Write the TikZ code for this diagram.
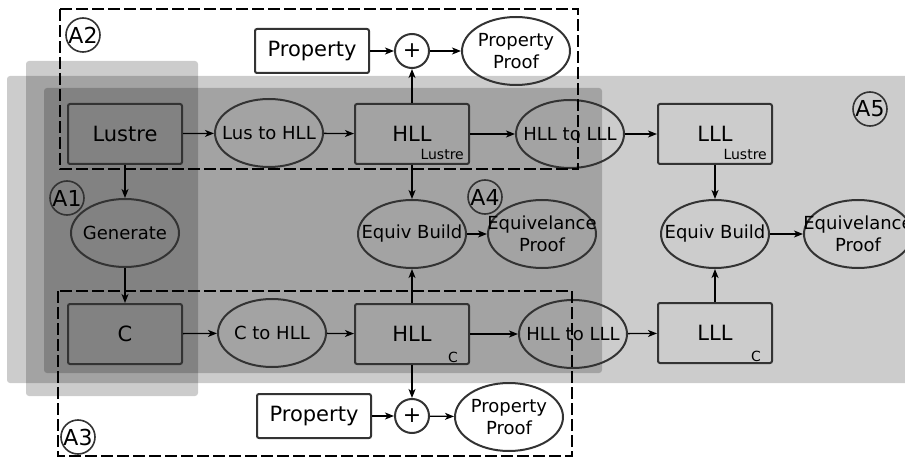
\documentclass[tikz,border=0pt]{standalone}
\usepackage{fontspec}
\setmainfont{DejaVu Sans}
\usetikzlibrary{arrows.meta,
	shapes.geometric,
	positioning}
\newcommand{\zwbox}[1]{\makebox[0pt]{#1}}
\tikzstyle{bx}=[draw=black!80, line width=2pt, rounded corners=2pt, minimum
		width=114pt, minimum height=60pt, inner sep=0, font=\fontsize{21}{24}\selectfont]
\tikzstyle{pbx}=[bx, minimum height=44pt]
\tikzstyle{el}=[draw=black!80, line width=2pt, ellipse, minimum width=108pt,
		minimum height=68pt, inner sep=0, align=center, font=\fontsize{18}{22}\selectfont]
\tikzstyle{pl}=[draw=black!80, line width=2pt, circle, minimum size=34pt,
		inner sep=0, font=\fontsize{22}{24}\selectfont]
\tikzstyle{subl}=[inner sep=0, anchor=base east, font=\fontsize{14}{16}\selectfont]
\tikzstyle{atag}=[draw=black!80, line width=1.6pt, circle, minimum size=34pt,
		inner sep=0, font=\fontsize{22}{24}\selectfont]
\tikzstyle{reg}=[fill=black, fill opacity=0.2, rounded corners=3pt]
\tikzstyle{grp}=[draw=black, line width=2pt, dash pattern=on 12pt off 4pt]
\tikzstyle{ar}=[-{Stealth[length=9pt, width=7pt, inset=2.5pt]}, line width=1.3pt]

\begin{document}
\begin{tikzpicture}[x=1pt, y=-1pt]
        \useasboundingbox (0,0) rectangle (905,457);
        % shaded areas A5, A4, A1
        \fill[reg] (7,76) rectangle (912,383);
        \fill[reg] (44,88) rectangle (602,373);
        \fill[reg] (26,61) rectangle (198,396);

        % Lustre row
        \node[bx] (lus) at (125,134) {Lustre};
        \node[el] (l2h) at (269,133) {\zwbox{Lus to HLL}};
        \node[bx] (hl) at (412,134) {HLL};
        \node[subl] at ([xshift=-6pt, yshift=5pt]hl.south east) {Lustre};
        \node[el] (h2l) at (570,134) {\zwbox{HLL to LLL}};
        \node[bx] (ll) at (715,134) {LLL};
        \node[subl] at ([xshift=-6pt, yshift=5pt]ll.south east) {Lustre};
        \node[pbx] (prl) at (312,51) {Property};
        \node[pl] (pll) at (412,51) {+};
        \node[el] (ppl) at (516,51) {\zwbox{Property}\\\zwbox{Proof}};

        % middle row
        \node[el] (gen) at (125,233) {\zwbox{Generate}};
        \node[el] (eql) at (412,234) {\zwbox{Equiv Build}};
        \node[el] (epl) at (542,234) {\zwbox{Equivelance}\\\zwbox{Proof}};
        \node[el] (eqr) at (715,234) {\zwbox{Equiv Build}};
        \node[el] (epr) at (858,234) {\zwbox{Equivelance}\\\zwbox{Proof}};

        % C row
        \node[bx] (c) at (125,334) {C};
        \node[el] (c2h) at (272,333) {\zwbox{C to HLL}};
        \node[bx] (hc) at (412,334) {HLL};
        \node[subl] at ([xshift=-12pt, yshift=3pt]hc.south east) {C};
        \node[el] (h2lc) at (573,334) {\zwbox{HLL to LLL}};
        \node[bx] (lc) at (715,333) {LLL};
        \node[subl] at ([xshift=-12pt, yshift=3pt]lc.south east) {C};
        \node[pbx] (prc) at (314,416) {Property};
        \node[pl] (plc) at (412,416) {+};
        \node[el] (ppc) at (509,417) {\zwbox{Property}\\\zwbox{Proof}};

        % area tags
        \node[atag] (a1) at (67,198) {A1};
        \node[atag] (a2) at (83,35) {A2};
        \node[atag] (a3) at (78,437) {A3};
        \node[atag] (a4) at (485,197) {A4};
        \node[atag] (a5) at (870,109) {A5};

        \draw[ar] (lus) -- (l2h);
        \draw[ar] (l2h) -- (hl);
        \draw[ar] (hl) -- (h2l);
        \draw[ar] (h2l) -- (ll);
        \draw[ar] (prl) -- (pll);
        \draw[ar] (pll) -- (ppl);
        \draw[ar] (hl) -- (pll);
        \draw[ar] (hl) -- (eql);
        \draw[ar] (hc) -- (eql);
        \draw[ar] (eql) -- (epl);
        \draw[ar] (ll) -- (eqr);
        \draw[ar] (lc) -- (eqr);
        \draw[ar] (eqr) -- (epr);
        \draw[ar] (lus) -- (gen);
        \draw[ar] (gen) -- (c);
        \draw[ar] (c) -- (c2h);
        \draw[ar] (c2h) -- (hc);
        \draw[ar] (hc) -- (h2lc);
        \draw[ar] (h2lc) -- (lc);
        \draw[ar] (hc) -- (plc);
        \draw[ar] (prc) -- (plc);
        \draw[ar] (plc) -- (ppc);

        % dashed groups A2, A3
        \draw[grp] (60,9) rectangle (578,169);
        \draw[grp] (58,291) rectangle (572,456);
    \end{tikzpicture}
\end{document}
